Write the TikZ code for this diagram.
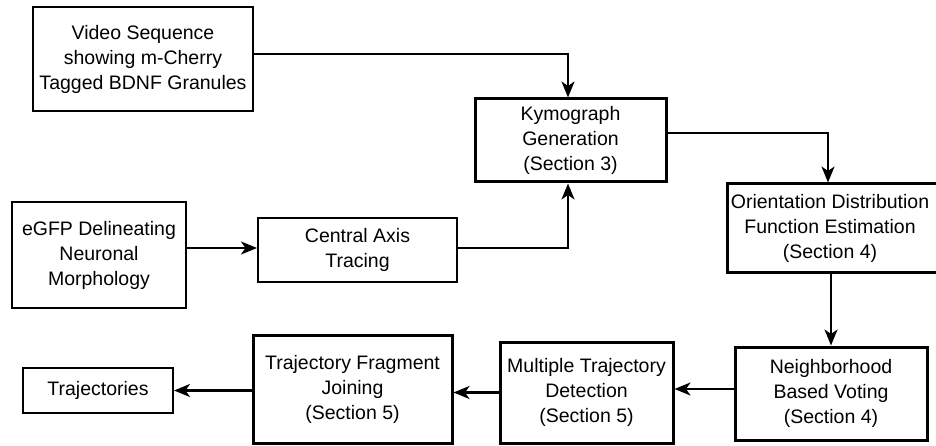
\documentclass[tikz,border=0pt]{standalone}
\usepackage{fontspec}
\setmainfont{Liberation Sans}
\usetikzlibrary{arrows.meta,calc}

\tikzset{
  box/.style={draw, line width=2pt, inner sep=0pt, align=center,
    font=\fontsize{19.5}{25}\selectfont},
  thinbox/.style={box, line width=1.5pt},
  thickbox/.style={box, line width=3pt},
  arr/.style={line width=2.2pt, -{Stealth[length=16pt,width=13pt,inset=4.5pt]}},
}

\begin{document}
\begin{tikzpicture}[x=1pt,y=-1pt]
  \useasboundingbox (0,0) rectangle (936,446);
  \clip (0,0) rectangle (936,446);
  \fill[white] (0,0) rectangle (936,446);

  % processing stages
  \node[thinbox, minimum width=220pt, minimum height=104pt] (video) at (143,59)
    {Video Sequence\\showing m-Cherry\\Tagged BDNF Granules};
  \node[thickbox, minimum width=191pt, minimum height=83pt] (kymo) at (570.5,140.5)
    {Kymograph\\Generation\\(Section 3)};
  \node[box, minimum width=174pt, minimum height=106pt] (egfp) at (99,255)
    {eGFP Delineating\\Neuronal\\Morphology};
  \node[box, minimum width=199pt, minimum height=64pt] (ca) at (357.5,250)
    {Central Axis\\Tracing};
  \node[thickbox, minimum width=215pt, minimum height=88pt] (odf) at (834.5,228)
    {};
  \node[font=\fontsize{19.5}{25}\selectfont, align=center, inner sep=0pt] (odftext) at (830,228)
    {Orientation Distribution\\Function Estimation\\(Section 4)};
  \node[thickbox, minimum width=192pt, minimum height=93pt] (nb) at (831,393.5)
    {Neighborhood\\Based Voting\\(Section 4)};
  \node[thickbox, minimum width=173pt, minimum height=101pt] (mt) at (586.5,392.5)
    {Multiple Trajectory\\Detection\\(Section 5)};
  \node[thickbox, minimum width=199pt, minimum height=108pt] (tf) at (352.5,389)
    {Trajectory Fragment\\Joining\\(Section 5)};
  \node[box, minimum width=150pt, minimum height=45pt] (traj) at (98,390.5)
    {Trajectories};

  % connectors
  \coordinate (v1) at ([yshift=5pt]video.east);
  \coordinate (k1) at ([xshift=-2.5pt]kymo.north);
  \coordinate (k2) at ([xshift=-2.5pt]kymo.south);
  \coordinate (k3) at ([yshift=7.5pt]kymo.east);
  \coordinate (o1) at ([xshift=-6.5pt]odf.north);
  \coordinate (c1) at ([yshift=2pt]ca.east);
  \coordinate (c2) at ([yshift=2pt]ca.west);
  \coordinate (n1) at ([yshift=4.5pt]nb.west);

  \draw[arr] (v1) -| (k1);
  \draw[arr] (egfp.east |- c2) -- (c2);
  \draw[arr] (c1) -| (k2);
  \draw[arr] (k3) -| (o1);
  \draw[arr] (odf.south -| nb.north) -- (nb.north);
  \draw[arr] (n1) -- (n1 -| mt.east);
  \draw[arr] (mt.west) -- (mt.west -| tf.east);
  \draw[arr] (traj.east -| tf.west) -- (traj.east);
\end{tikzpicture}
\end{document}
